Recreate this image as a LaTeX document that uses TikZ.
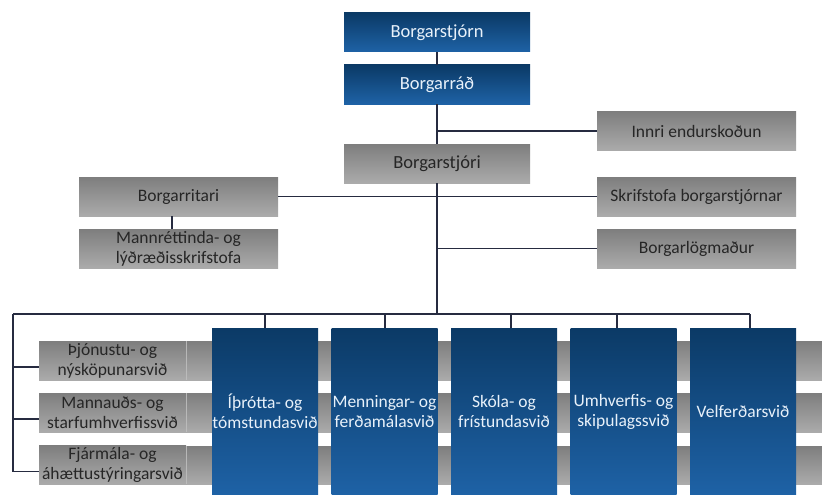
\documentclass[tikz,border=0pt]{standalone}
\usepackage{fontspec}
\setmainfont{Carlito}
\usepackage{tikz}
\usetikzlibrary{calc,positioning}
\usepackage{xcolor}
\definecolor{navytop}{HTML}{0B3A66}
\definecolor{navybot}{HTML}{1E62A6}
\definecolor{greytop}{HTML}{7E7E7E}
\definecolor{greybot}{HTML}{ABABAB}
\definecolor{linkcol}{HTML}{262B40}
\definecolor{greytext}{HTML}{262626}
\definecolor{bluetext}{HTML}{E8F1FA}

\tikzset{
    bluebox/.style={rectangle, top color=navytop, bottom color=navybot, text=bluetext,
        inner sep=0pt, align=center, font=\fontsize{18.5}{21}\selectfont},
    greybox/.style={rectangle, top color=greytop, bottom color=greybot, text=greytext,
        inner sep=0pt, align=center, font=\fontsize{17.5}{20}\selectfont},
    link/.style={draw=linkcol, line width=1.3pt},
}

\begin{document}
\begin{tikzpicture}[x=1pt,y=-1pt]
        \useasboundingbox (0,0) rectangle (822,495);

        % Grey bands behind the departments
        \foreach \ya/\yb in {341/380,393/432,446/484} {
            \shade[top color=greytop, bottom color=greybot] (186,\ya) rectangle (822,\yb);
            \draw[draw=black!25, line width=0.6pt] (186,\ya) -- (186,\yb);
        }

        % Top of the chart
        \node[bluebox, minimum width=186pt, minimum height=39pt] (stjorn) at (437,32.5) {Borgarstjórn};
        \node[bluebox, minimum width=186pt, minimum height=39pt] (rad) at (437,84.5) {Borgarráð};
        \node[greybox, minimum width=186pt, minimum height=39pt, font=\fontsize{18.5}{21}\selectfont] (stjori) at (437,163.5) {Borgarstjóri};

        % Staff offices on both sides
        \node[greybox, minimum width=199pt, minimum height=39pt] (innri) at (696.5,131) {Innri endurskoðun};
        \node[greybox, minimum width=199pt, minimum height=39pt] (skrif) at (696.5,196.5) {Skrifstofa borgarstjórnar};
        \node[greybox, minimum width=199pt, minimum height=39pt] (logm) at (696.5,248.5) {Borgarlögmaður};
        \node[greybox, minimum width=199pt, minimum height=39pt] (ritari) at (178.5,196.5) {Borgarritari};
        \node[greybox, minimum width=199pt, minimum height=39pt] (mannr) at (178.5,248.5) {Mannréttinda- og\\lýðræðisskrifstofa};

        % Support departments on the left
        \node[greybox, minimum width=147pt, minimum height=39pt] (row1) at (112.5,360.5) {Þjónustu- og\\nýsköpunarsvið};
        \node[greybox, minimum width=147pt, minimum height=39pt] (row2) at (112.5,412.5) {Mannauðs- og\\starfumhverfissvið};
        \node[greybox, minimum width=147pt, minimum height=39pt] (row3) at (112.5,465) {Fjármála- og\\áhættustýringarsvið};

        % Main departments
        \coordinate (hub) at (437,314);
        \foreach \i/\cx/\dx/\txt in {1/265/265/{Íþrótta- og\\tómstundasvið},
                                    2/384.5/385/{Menningar- og\\ferðamálasvið},
                                    3/504/511/{Skóla- og\\frístundasvið},
                                    4/623.5/617/{Umhverfis- og\\skipulagssvið},
                                    5/743/750/{Velferðarsvið}} {
            \node[bluebox, minimum width=106pt, minimum height=167pt, font=\fontsize{17.5}{20}\selectfont] (svid\i) at (\cx,411.5) {\txt};
            \coordinate (drop\i) at (\dx,314);
            \draw[link] (drop\i) -- (drop\i |- svid\i.north);
        }

        % Lines of the chart
        \draw[link] (stjorn) -- (rad);
        \draw[link] (rad) -- (stjori);
        \draw[link] (innri.west) -- (innri.west -| rad.south);
        \draw[link] (ritari.east) -- (skrif.west);
        \draw[link] (logm.west) -- (logm.west -| stjori.south);
        \draw[link] ([xshift=-6.5pt]ritari.south) -- ([xshift=-6.5pt]mannr.north);
        \draw[link] (stjori) -- (hub);
        \coordinate (busend) at (13,314);
        \draw[link] (busend) -- (drop5);
        \draw[link] (busend) |- ([yshift=-6.5pt]row3.west);
        \foreach \i in {1,2} {
            \draw[link] ([yshift=-6.5pt]row\i.west) -- ([yshift=-6.5pt]row\i.west -| busend);
        }
\end{tikzpicture}
\end{document}
